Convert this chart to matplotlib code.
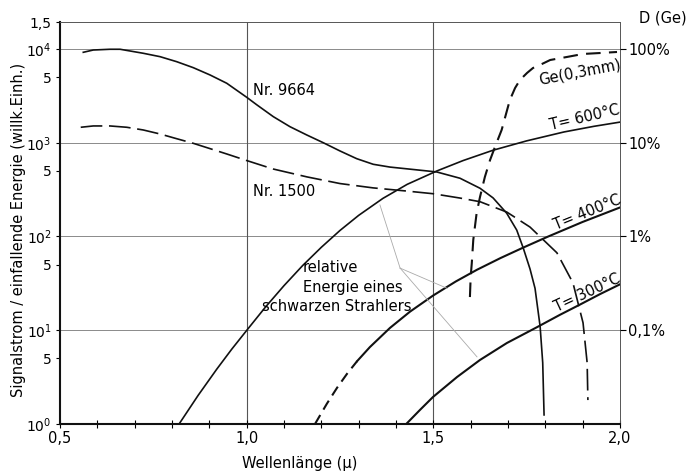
import matplotlib
matplotlib.use("Agg")
import matplotlib.pyplot as plt
from matplotlib.ticker import FixedLocator, FixedFormatter, NullLocator, NullFormatter

# ---- data (wavelength in micron, signal in arbitrary units) ----
nr9664_x = [0.5624, 0.589, 0.634, 0.661, 0.723, 0.768, 0.8126, 0.857, 0.902, 0.9466, 1.000, 1.027,
            1.0714, 1.116, 1.161, 1.2053, 1.250, 1.2948, 1.339, 1.384, 1.4288, 1.509, 1.5715, 1.625,
            1.660, 1.6966, 1.7234, 1.741, 1.759, 1.7724, 1.786, 1.793, 1.7966]
nr9664_y = [9220, 9750, 9930, 9930, 9000, 8280, 7320, 6320, 5280, 4310, 3055, 2540,
            1897, 1483, 1210, 1000, 817, 676, 589, 550, 527, 488, 418, 327,
            258, 177, 117, 75, 45, 28, 11, 4.5, 1.25]

nr1500_x = [0.5555, 0.589, 0.634, 0.679, 0.723, 0.768, 0.8126, 0.857, 0.902, 0.9466, 1.000, 1.0706,
            1.1617, 1.250, 1.3385, 1.4296, 1.499, 1.5715, 1.625, 1.697, 1.759, 1.831, 1.874, 1.901,
            1.912, 1.914]
nr1500_y = [1462, 1510, 1510, 1462, 1368, 1240, 1104, 986, 865, 759, 646, 525,
            432, 367, 330, 305, 286, 257, 235, 182, 126, 67, 32, 12,
            4.5, 1.8]

ge_x = [1.598, 1.600, 1.603, 1.607, 1.616, 1.625, 1.638, 1.652, 1.665, 1.683, 1.705, 1.719,
        1.732, 1.751, 1.767, 1.791, 1.813, 1.858, 1.901, 1.947, 1.992]
ge_y = [0.226, 0.37, 0.52, 0.92, 1.78, 2.64, 4.31, 6.55, 9.0, 13.7, 28.6, 38.4,
        46.7, 55.5, 62.7, 69.2, 76.3, 82.2, 88.5, 90.6, 92.9]  # percent

t600_x = [0.819, 0.87, 0.92, 0.96, 1.001, 1.05, 1.10, 1.15, 1.20, 1.25, 1.30, 1.365,
          1.43, 1.51, 1.58, 1.66, 1.75, 1.85, 1.93, 2.0]
t600_y = [1.0, 2.02, 3.85, 6.28, 10.07, 17.6, 29.9, 49, 76.7, 116, 168, 255,
          360, 501, 646, 832, 1047, 1303, 1496, 1660]

t400d_x = [1.183, 1.215, 1.242, 1.269, 1.296]
t400d_y = [1.0, 1.65, 2.43, 3.44, 4.69]
t400_x = [1.296, 1.33, 1.384, 1.4376, 1.499, 1.56, 1.617, 1.68, 1.74, 1.805, 1.90, 2.0]
t400_y = [4.69, 6.61, 10.6, 15.8, 23.4, 33.1, 44.2, 58.9, 75.9, 98.9, 143, 204]

t300_x = [1.4295, 1.464, 1.499, 1.5635, 1.625, 1.697, 1.778, 1.839, 1.893, 1.9466, 2.0]
t300_y = [1.02, 1.41, 1.94, 3.17, 4.82, 7.31, 10.8, 14.6, 18.8, 24.3, 30.9]

leader_vertex = (1.411, 46)
leader_ends = [(1.357, 217), (1.537, 28), (1.617, 5.2)]

xticks = [0.5, 1.0, 1.5, 2.0]
xticklabels = ["0,5", "1,0", "1,5", "2,0"]
yticks = [1, 5, 10, 50, 100, 500, 1000, 5000, 10000, 19400]
yticklabels = ["10$^0$", "5", "10$^1$", "5", "10$^2$", "5", "10$^3$", "5", "10$^4$", "1,5"]
rticks = [0.1, 1, 10, 100]
rticklabels = ["0,1%", "1%", "10%", "100%"]

plt.rcParams['font.family'] = ['DejaVu Sans']
plt.rcParams['mathtext.fontset'] = 'dejavusans'
plt.rcParams['mathtext.default'] = 'regular'
fig = plt.figure(figsize=(6.87, 4.73), dpi=100)
ax = fig.add_axes([60/687, 1-424/473, 560/687, 402/473])
ax.set_yscale('log')
ax.set_xlim(0.5, 2.0)
ax.set_ylim(1, 19400)

grid_c = '#8a8a8a'
for v in [10, 100, 1000, 10000]:
    ax.axhline(v, color=grid_c, lw=0.7, zorder=1)
for v in [1.0, 1.5]:
    ax.axvline(v, color='#555555', lw=0.8, zorder=1)

k = '#111111'
ax.plot(nr9664_x, nr9664_y, color=k, lw=1.2)
ax.plot(nr1500_x, nr1500_y, color=k, lw=1.2, dashes=(13, 4))
ax.plot(t600_x, t600_y, color=k, lw=1.2)
ax.plot(t400d_x, t400d_y, color=k, lw=1.5, dashes=(5, 3))
ax.plot(t400_x, t400_y, color=k, lw=1.5)
ax.plot(t300_x, t300_y, color=k, lw=1.5)
for ex, ey in leader_ends:
    ax.plot([leader_vertex[0], ex], [leader_vertex[1], ey], color='#aaaaaa', lw=0.6)

for s in ['left', 'bottom']:
    ax.spines[s].set_linewidth(1.5)
    ax.spines[s].set_color(k)
for s in ['top', 'right']:
    ax.spines[s].set_linewidth(0.7)
    ax.spines[s].set_color('#555555')

ax.xaxis.set_major_locator(FixedLocator(xticks))
ax.xaxis.set_major_formatter(FixedFormatter(xticklabels))
ax.xaxis.set_minor_locator(FixedLocator([0.6, 0.7, 0.8, 0.9, 1.1, 1.2, 1.3, 1.4, 1.6, 1.7, 1.8, 1.9]))
ax.tick_params(axis='x', which='both', direction='inout', length=6, width=0.8, labelsize=10.5, pad=2)
ax.yaxis.set_major_locator(FixedLocator(yticks))
ax.yaxis.set_major_formatter(FixedFormatter(yticklabels))
ax.yaxis.set_minor_locator(NullLocator())
ax.tick_params(axis='y', which='major', direction='out', length=3, width=0.8, labelsize=10, pad=3)

ax2 = ax.twinx()
ax2.set_yscale('log')
ax2.set_ylim(0.01, 194)
ax2.plot(ge_x, ge_y, color=k, lw=1.5, dashes=(7, 4))
ax2.yaxis.set_major_locator(FixedLocator(rticks))
ax2.yaxis.set_major_formatter(FixedFormatter(rticklabels))
ax2.yaxis.set_minor_locator(NullLocator())
ax2.yaxis.set_minor_formatter(NullFormatter())
ax2.tick_params(axis='y', which='major', direction='out', length=4, width=0.8, labelsize=10.5, pad=2)
for s in ax2.spines.values():
    s.set_visible(False)

# labels
ax.text(1.018, 3650, "Nr. 9664", fontsize=10.5, va='center', ha='left')
ax.text(1.018, 300, "Nr. 1500", fontsize=10.5, va='center', ha='left')
ax.text(1.893, 5700, "Ge(0,3mm)", fontsize=10.5, rotation=11, ha='center', va='center')
ax.text(1.905, 1850, "T= 600°C", fontsize=10.5, rotation=13, ha='center', va='center')
ax.text(1.912, 180, "T= 400°C", fontsize=10.5, rotation=22, ha='center', va='center')
ax.text(1.912, 25, "T= 300°C", fontsize=10.5, rotation=25, ha='center', va='center')
ax.text(1.151, 47, "relative", fontsize=10.5, ha='left', va='center')
ax.text(1.151, 28.9, "Energie eines", fontsize=10.5, ha='left', va='center')
ax.text(1.041, 17.7, "schwarzen Strahlers", fontsize=10.5, ha='left', va='center')

fig.text(19/687, 1-230/473, "Signalstrom / einfallende Energie (willk.Einh.)", rotation=90,
         fontsize=10.5, ha='center', va='center')
fig.text(300/687, 1-463/473, "Wellenlänge (µ)", fontsize=10.5, ha='center', va='center')
fig.text(663/687, 1-18/473, "D (Ge)", fontsize=10.5, ha='center', va='center')

fig.savefig("out.png", dpi=100)
